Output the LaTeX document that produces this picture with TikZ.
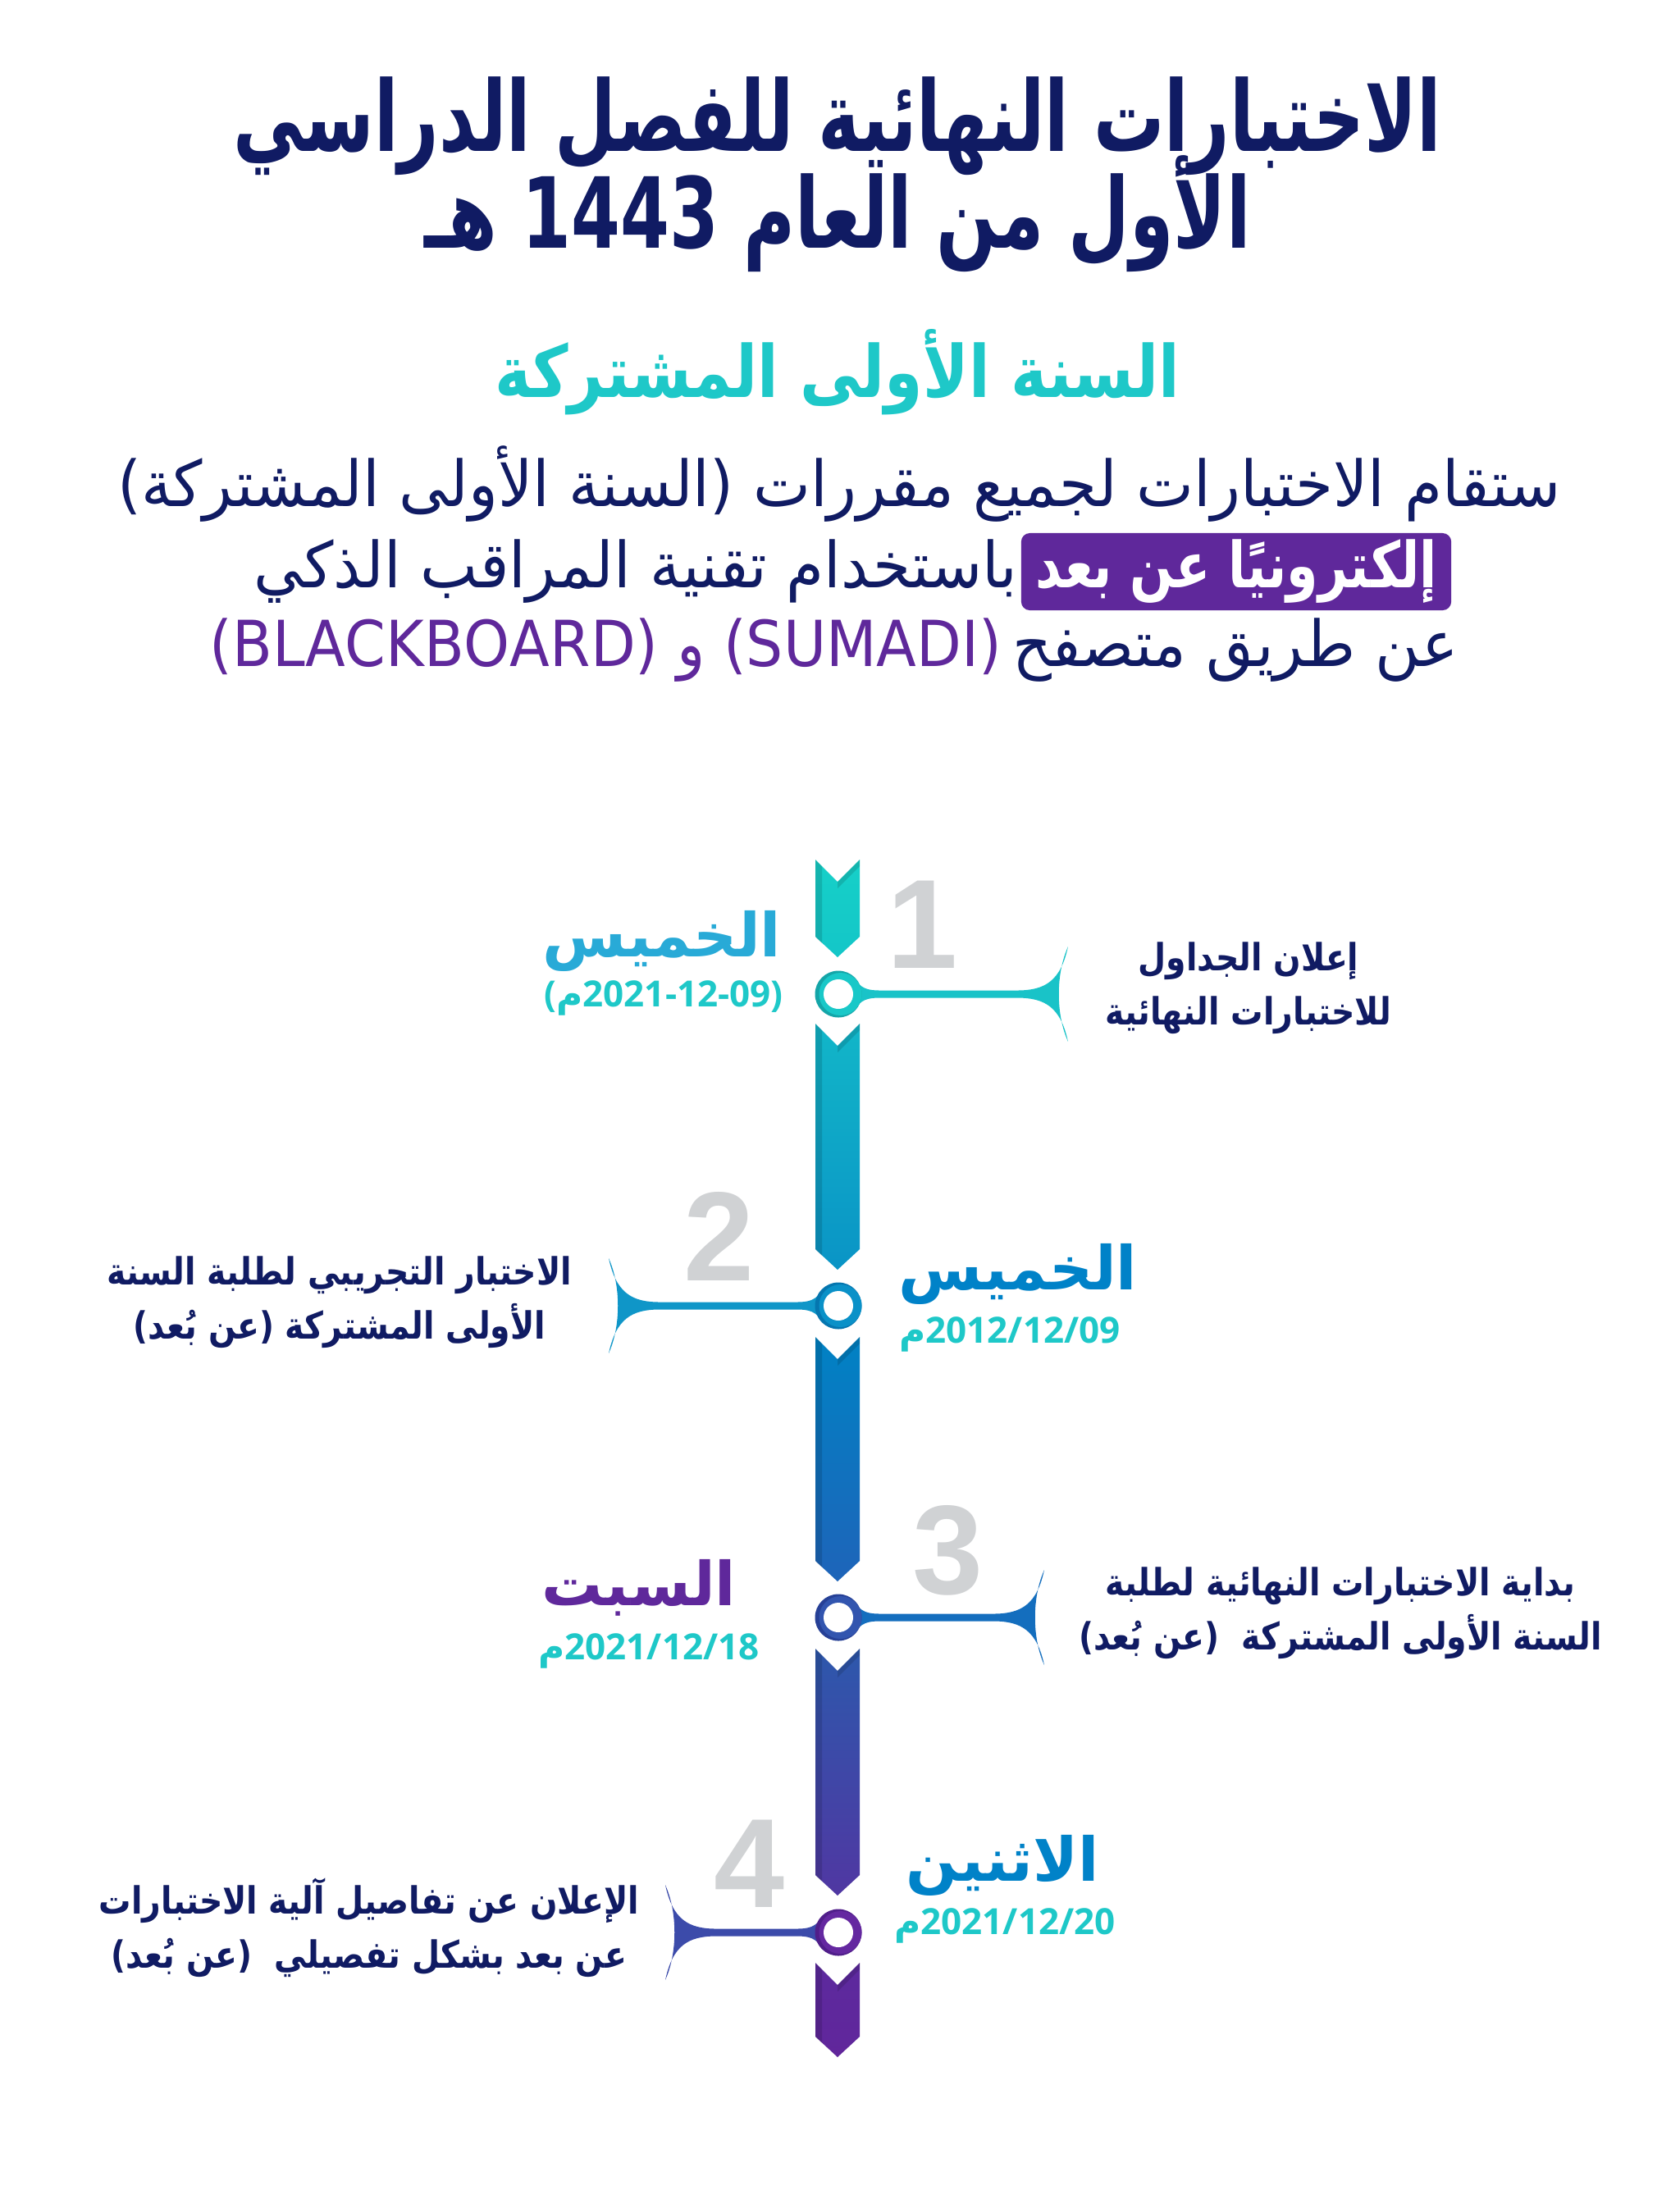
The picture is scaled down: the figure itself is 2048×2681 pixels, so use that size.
\documentclass[tikz,border=0pt]{standalone}
\usepackage{fontspec}
\setmainfont{Liberation Sans}
\newfontfamily\arabicfont[Script=Arabic]{DejaVu Sans}
\newfontfamily\datefont{Open Sans}
\TeXXeTstate=1
\usetikzlibrary{positioning,calc}
\definecolor{navy}{RGB}{16,27,99}
\definecolor{tealtxt}{RGB}{30,200,200}
\definecolor{purp}{RGB}{95,40,155}
\definecolor{dayblue}{RGB}{0,130,200}
\definecolor{daylight}{RGB}{40,170,215}
\definecolor{numgray}{RGB}{208,210,212}
% ribbon colours, top to bottom
\definecolor{seg1t}{RGB}{22,208,200}\definecolor{seg1b}{RGB}{20,198,200}
\definecolor{seg2t}{RGB}{18,182,200}\definecolor{seg2b}{RGB}{10,148,198}
\definecolor{seg3t}{RGB}{0,130,196}\definecolor{seg3b}{RGB}{30,100,185}
\definecolor{seg4t}{RGB}{45,88,172}\definecolor{seg4b}{RGB}{80,55,162}
\definecolor{seg5t}{RGB}{92,42,158}\definecolor{seg5b}{RGB}{97,38,155}
\definecolor{ring1}{RGB}{25,200,200}\definecolor{ring1d}{RGB}{20,165,168}
\definecolor{ring2}{RGB}{10,145,200}\definecolor{ring2d}{RGB}{5,118,175}
\definecolor{ring3}{RGB}{50,85,175}\definecolor{ring3d}{RGB}{38,64,150}
\definecolor{ring4}{RGB}{100,40,160}\definecolor{ring4d}{RGB}{80,30,138}
\definecolor{flare1}{RGB}{25,195,200}
\definecolor{flare2}{RGB}{15,150,200}
\definecolor{flare3}{RGB}{20,110,190}
\definecolor{flare4}{RGB}{60,75,170}
\newcommand{\artext}[1]{{\beginR #1\endR}}
\newcommand{\meem}{{\arabicfont م}}
\newcommand{\narrow}[1]{\addfontfeatures{FakeStretch=#1}}
\tikzset{
  titletxt/.style={font=\arabicfont\bfseries\narrow{0.72}\fontsize{34}{40}\selectfont,text=navy,inner sep=0pt},
  subtxt/.style={font=\arabicfont\bfseries\narrow{0.85}\fontsize{25}{30}\selectfont,text=tealtxt,inner sep=0pt},
  paratxt/.style={font=\arabicfont\narrow{0.96}\fontsize{22}{26}\selectfont,text=navy,inner sep=0pt},
  hlbox/.style={fill=purp,rounded corners=3pt,text=white,font=\arabicfont\bfseries\narrow{0.8}\fontsize{22}{26}\selectfont,
    minimum width=5.24cm,minimum height=0.94cm,inner sep=0pt},
  daytxt/.style={font=\arabicfont\bfseries\fontsize{21}{24}\selectfont,inner sep=0pt},
  datetxt/.style={font=\datefont\bfseries\fontsize{12.5}{15}\selectfont,text=tealtxt,inner sep=0pt},
  desctxt/.style={font=\arabicfont\bfseries\narrow{0.86}\fontsize{13}{18.8}\selectfont,text=navy,align=center,inner sep=0pt},
  stepnum/.style={font=\bfseries\fontsize{44}{44}\selectfont,text=numgray,inner sep=0pt},
  pics/ring/.style n args={2}{code={
    \fill[#2] (0,0) circle (28.5);
    \fill[#1] (2.5,0) circle (26);
    \fill[white] (0,0) circle (18);
  }},
  pics/flare/.style={code={
    \fill (20,-19) .. controls (27,-7) and (36,-4.5) .. (50,-4.5)
      -- (#1-62,-4.5) .. controls (#1-28,-4.5) and (#1-9,-16) .. (#1,-58)
      .. controls (#1-15,-25) and (#1-15,25) .. (#1,58)
      .. controls (#1-9,16) and (#1-28,4.5) .. (#1-62,4.5)
      -- (50,4.5) .. controls (36,4.5) and (27,7) .. (20,19) -- cycle;
  }}
}
\begin{document}
\begin{tikzpicture}[x=0.01cm,y=-0.01cm]
\fill[white] (0,0) rectangle (2048,2681);
\useasboundingbox (0,0) rectangle (2048,2681);

% heading
\node[titletxt,anchor=base] (t1) at (1021,184) {\artext{الاختبارات النهائية للفصل الدراسي}};
\node[titletxt,anchor=base] (t2) at (1021,302) {\artext{الأول من العام \beginL1443\endL{} هـ}};
\node[subtxt,anchor=base] (sub) at (1021,484) {\artext{السنة الأولى المشتركة}};

% intro text
\node[paratxt,anchor=base] (p1) at (1023,617) {\artext{ستقام الاختبارات لجميع مقررات (السنة الأولى المشتركة)}};
\node[hlbox] (hl) at (1507,697) {\artext{إلكترونيًا عن بعد}};
\node[paratxt,anchor=base east] (p2) at ($(hl.base west)+(-3,0)$) {\artext{باستخدام تقنية المراقب الذكي}};
\node[paratxt,anchor=base east] (p3) at (1778,812) {\artext{عن طريق متصفح}};
\node[paratxt,text=purp,anchor=base east,font=\arabicfont\narrow{0.92}\fontsize{22}{26}\selectfont] (p3b)
  at ($(p3.base west)+(-12,0)$) {(BLACKBOARD) و (SUMADI)};

% ribbon
\foreach \yt/\yb/\ct/\cb in {1048/1167/seg1t/seg1b,1248/1548/seg2t/seg2b,1630/1928/seg3t/seg3b,
                             2010/2311/seg4t/seg4b,2393/2508/seg5t/seg5b}{
  \shade[top color=\ct,bottom color=\cb] (994,\yt) -- (1021,\yt+27) -- (1048,\yt) -- (1048,\yb-25)
    -- (1021,\yb) -- (994,\yb-25) -- cycle;
  \fill[black,opacity=.13] (994,\yt) -- (1002,\yt+8) -- (1002,\yb-17) -- (994,\yb-25) -- cycle;
  \fill[black,opacity=.13] (1021,\yt+27) -- (1048,\yt) -- (1048,\yt+8) -- (1021,\yt+35) -- cycle;
}

\coordinate (c1) at (1022,1212);
\coordinate (c2) at (1022,1592);
\coordinate (c3) at (1022,1972);
\coordinate (c4) at (1022,2356);

\pic[flare1] at (c1) {flare=280};
\pic[flare2,xscale=-1] at (c2) {flare=280};
\pic[flare3] at (c3) {flare=251};
\pic[flare4,xscale=-1] at (c4) {flare=211};

\pic at (c1) {ring={ring1}{ring1d}};
\pic at (c2) {ring={ring2}{ring2d}};
\pic at (c3) {ring={ring3}{ring3d}};
\pic at (c4) {ring={ring4}{ring4d}};

% step numbers
\node[stepnum] (n1) at (1125,1127) {1};
\node[stepnum] (n2) at (877,1507) {2};
\node[stepnum] (n3) at (1156,1890) {3};
\node[stepnum] (n4) at (914,2272) {4};

% days and dates
\node[daytxt,text=daylight,anchor=base] (w1) at (807,1166) {\artext{الخميس}};
\node[datetxt,anchor=base] (dt1) at (809,1227) {(\meem2021-12-09)};
\node[daytxt,text=dayblue,anchor=base] (w2) at (1241,1572) {\artext{الخميس}};
\node[datetxt,anchor=base] (dt2) at (1231,1637) {\meem2012/12/09};
\node[daytxt,text=purp,anchor=base] (w3) at (779,1957) {\artext{السبت}};
\node[datetxt,anchor=base] (dt3) at (791,2023) {\meem2021/12/18};
\node[daytxt,text=dayblue,anchor=base] (w4) at (1222,2293) {\artext{الاثنين}};
\node[datetxt,anchor=base] (dt4) at (1225,2358) {\meem2021/12/20};

% descriptions
\node[desctxt] (d1) at (1522,1205) {\artext{إعلان الجداول}\\\artext{للاختبارات النهائية}};
\node[desctxt] (d2) at (414,1588) {\artext{الاختبار التجريبي لطلبة السنة}\\\artext{الأولى المشتركة (عن بُعد)}};
\node[desctxt] (d3) at (1634,1967) {\artext{بداية الاختبارات النهائية لطلبة}\\\artext{السنة الأولى المشتركة ~(عن بُعد)}};
\node[desctxt] (d4) at (450,2350) {\artext{الإعلان عن تفاصيل آلية الاختبارات}\\\artext{عن بعد بشكل تفصيلي ~(عن بُعد)}};
\end{tikzpicture}
\end{document}
